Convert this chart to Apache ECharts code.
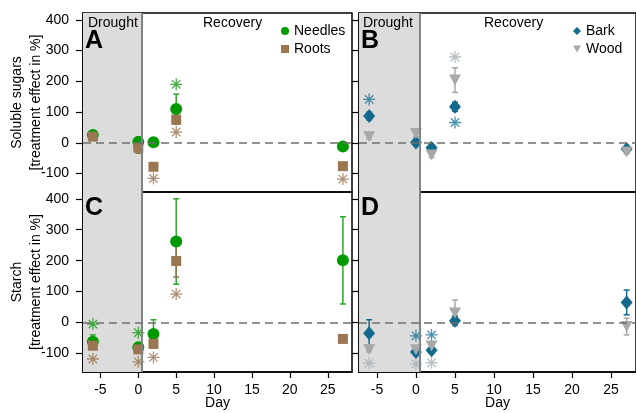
<!DOCTYPE html>
<html>
<head>
<meta charset="utf-8">
<script src="https://cdn.jsdelivr.net/npm/echarts@6/dist/echarts.min.js"></script>
<style>html,body{margin:0;padding:0;background:#fff}#c{width:636px;height:413px}</style>
</head>
<body>
<div id="c"></div>
<script>
// ---- data ----
const days = [-6, 0, 2, 5, 27];
const xTicks = [-5, 0, 5, 10, 15, 20, 25];
const yTicks = [-100, 0, 100, 200, 300, 400];
// A: soluble sugars, needles & roots
const sugarNeedles = [25, 3, 2, 110, -12];
const sugarNeedlesErr = [6, 5, 5, 48, 6];
const sugarNeedlesStar = [null, null, null, 190, null];
const sugarRoots = [20, -16, -78, 75, -76];
const sugarRootsErr = [10, 18, 5, 15, 5];
const sugarRootsStar = [null, null, -116, 35, -118];
// B: soluble sugars, bark & wood
const sugarBark = [87, 1, -16, 117, -20];
const sugarBarkErr = [12, 6, 8, 15, 6];
const sugarBarkStar = [141, null, null, 66, null];
const sugarWood = [20, 30, -40, 204, -30];
const sugarWoodErr = [8, 10, 8, 40, 6];
const sugarWoodStar = [null, null, null, 279, null];
// C: starch, needles & roots
const starchNeedles = [-62, -80, -37, 262, 201];
const starchNeedlesErr = [22, 8, 46, 138, 141];
const starchNeedlesStar = [-5, -33, null, null, null];
const starchRoots = [-75, -87, -69, 199, -53];
const starchRootsErr = [8, 8, 10, 52, 10];
const starchRootsStar = [-118, -127, -113, 92, null];
// D: starch, bark & wood
const starchBark = [-35, -95, -90, 6, 65];
const starchBarkErr = [44, 6, 6, 15, 40];
const starchBarkStar = [null, -43, -40, null, null];
const starchWood = [-87, -88, -76, 31, -13];
const starchWoodErr = [8, 8, 8, 42, 27];
const starchWoodStar = [-132, -134, -130, null, null];

const droughtEnd = 0.5;
const xMin = -7.3, xMax = 28.2, yMin = -160, yMax = 422;

// ---- styles ----
const TRI = 'path://M0,0L10,0L5,9Z';
const STAR = 'path://M5,0L5,10M0,5L10,5M1.5,1.5L8.5,8.5M1.5,8.5L8.5,1.5';
const groups = {
  Needles: {sym: 'circle', size: 12, color: '#009a00', err: '#2aa72a', star: '#1a9a1a'},
  Roots:   {sym: 'rect', size: 10, color: '#9b7653', err: '#8a7a4a', star: '#9b7653'},
  Bark:    {sym: 'diamond', size: [12, 14], color: '#13698b', err: '#13698b', star: '#1d7696'},
  Wood:    {sym: TRI, size: [12, 11], color: '#a8a8a8', err: '#a8a8a8', star: '#a5b0b6'}
};

const grids = [
  {left: 83, top: 13, width: 269, height: 179},
  {left: 359, top: 13, width: 281, height: 179},
  {left: 83, top: 192, width: 269, height: 180},
  {left: 359, top: 192, width: 281, height: 180}
].map(g => Object.assign(g, {show: true, borderColor: '#000', borderWidth: 1.5, backgroundColor: 'transparent'}));

const font = 'Liberation Sans, Arial, sans-serif';

const xAxes = [0, 1, 2, 3].map(i => ({
  type: 'value', gridIndex: i, min: xMin, max: xMax,
  splitLine: {show: false},
  axisLine: {show: i >= 2, onZero: false, lineStyle: {color: '#000', width: 1.5}},
  axisTick: {show: i >= 2, length: 6, lineStyle: {color: '#000', width: 1.2}, customValues: xTicks},
  axisLabel: {show: i >= 2, customValues: xTicks, margin: 11, fontSize: 14, color: '#000', fontFamily: font},
  name: i >= 2 ? 'Day' : '', nameLocation: 'middle', nameGap: 24, nameMoveOverlap: false,
  nameTextStyle: {fontSize: 14, color: '#000', fontFamily: font}
}));

const yNames = ['Soluble sugars\n[treatment effect in %]', '', 'Starch\n[treatment effect in %]', ''];
const yAxes = [0, 1, 2, 3].map(i => ({
  type: 'value', gridIndex: i, min: yMin, max: yMax,
  splitLine: {show: false},
  axisLine: {show: true, onZero: false, lineStyle: {color: '#000', width: 1.5}},
  axisTick: {show: true, length: 7, lineStyle: {color: '#000', width: 1.2}, customValues: yTicks},
  axisLabel: {show: i % 2 === 0, customValues: yTicks, margin: 14, fontSize: 14, color: '#000', fontFamily: font},
  name: yNames[i], nameLocation: 'middle', nameGap: 37, nameMoveOverlap: false,
  nameTextStyle: {fontSize: 14, lineHeight: 19, color: '#000', fontFamily: font, align: 'center'}
}));

function errSeries(idx, name, vals, errs) {
  const g = groups[name];
  return {
    type: 'custom', xAxisIndex: idx, yAxisIndex: idx, silent: true, z: 3,
    data: days.map((d, k) => [d, vals[k] - errs[k], vals[k] + errs[k]]),
    encode: {x: 0, y: [1, 2]},
    renderItem: function (params, api) {
      const x = api.value(0);
      const p1 = api.coord([x, api.value(1)]);
      const p2 = api.coord([x, api.value(2)]);
      const w = 3, st = {stroke: g.err, lineWidth: 1.5};
      return {type: 'group', children: [
        {type: 'line', shape: {x1: p1[0], y1: p1[1], x2: p2[0], y2: p2[1]}, style: st},
        {type: 'line', shape: {x1: p1[0] - w, y1: p1[1], x2: p1[0] + w, y2: p1[1]}, style: st},
        {type: 'line', shape: {x1: p2[0] - w, y1: p2[1], x2: p2[0] + w, y2: p2[1]}, style: st}
      ]};
    }
  };
}
function pointSeries(idx, name, vals, withMarks) {
  const g = groups[name];
  const s = {
    type: 'scatter', name: name, xAxisIndex: idx, yAxisIndex: idx, z: 4,
    symbol: g.sym, symbolSize: g.size,
    itemStyle: {color: g.color, opacity: 1},
    data: days.map((d, k) => [d, vals[k]])
  };
  if (withMarks) {
    s.markArea = {silent: true, itemStyle: {color: '#dcdcdc'}, data: [[{xAxis: xMin}, {xAxis: droughtEnd}]]};
    s.markLine = {silent: true, symbol: 'none', label: {show: false}, animation: false, data: [
      {xAxis: droughtEnd, lineStyle: {color: '#7d8585', width: 2, type: 'solid'}},
      {yAxis: 0, lineStyle: {color: '#6f6f6f', width: 1.5, type: [8, 5]}}
    ]};
  }
  return s;
}
function starSeries(idx, name, vals) {
  const g = groups[name];
  return {
    type: 'scatter', xAxisIndex: idx, yAxisIndex: idx, z: 4, silent: true,
    symbol: STAR, symbolSize: 12,
    itemStyle: {color: 'rgba(0,0,0,0)', borderColor: g.star, borderWidth: 1.3},
    data: days.map((d, k) => vals[k] === null ? null : [d, vals[k]]).filter(v => v)
  };
}

const panels = [
  [0, 'Needles', sugarNeedles, sugarNeedlesErr, sugarNeedlesStar, 'Roots', sugarRoots, sugarRootsErr, sugarRootsStar],
  [1, 'Bark', sugarBark, sugarBarkErr, sugarBarkStar, 'Wood', sugarWood, sugarWoodErr, sugarWoodStar],
  [2, 'Needles', starchNeedles, starchNeedlesErr, starchNeedlesStar, 'Roots', starchRoots, starchRootsErr, starchRootsStar],
  [3, 'Bark', starchBark, starchBarkErr, starchBarkStar, 'Wood', starchWood, starchWoodErr, starchWoodStar]
];
const series = [];
panels.forEach(p => {
  const i = p[0];
  series.push(errSeries(i, p[1], p[2], p[3]));
  series.push(pointSeries(i, p[1], p[2], true));
  series.push(starSeries(i, p[1], p[4]));
  series.push(errSeries(i, p[5], p[6], p[7]));
  series.push(pointSeries(i, p[5], p[6], false));
  series.push(starSeries(i, p[5], p[8]));
});

function txt(left, top, text, size, weight) {
  return {type: 'text', left: left, top: top, z: 10, silent: true,
    style: {text: text, fontSize: size, fontWeight: weight || 'normal', fill: '#000', fontFamily: font}};
}
const graphic = [
  txt(88, 16, 'Drought', 14), txt(203, 16, 'Recovery', 14), txt(85, 29, 'A', 25, 'bold'),
  txt(363, 16, 'Drought', 14), txt(484, 16, 'Recovery', 14), txt(361, 29, 'B', 25, 'bold'),
  txt(85, 196, 'C', 25, 'bold'), txt(361, 196, 'D', 25, 'bold')
];

const legendBase = {orient: 'vertical', itemWidth: 8, itemHeight: 8, itemGap: 4, itemSymbolKeepAspect: true,
  textStyle: {fontSize: 14, color: '#000', fontFamily: font}, selectedMode: false};
const option = {
  animation: false,
  backgroundColor: '#fff',
  grid: grids,
  xAxis: xAxes,
  yAxis: yAxes,
  legend: [
    Object.assign({}, legendBase, {data: ['Needles', 'Roots'], left: 276, top: 19}),
    Object.assign({}, legendBase, {data: ['Bark', 'Wood'], left: 568, top: 19})
  ],
  graphic: graphic,
  series: series
};
const chart = echarts.init(document.getElementById('c'), null, {renderer: 'canvas'});
chart.setOption(option);
</script>
</body>
</html>
